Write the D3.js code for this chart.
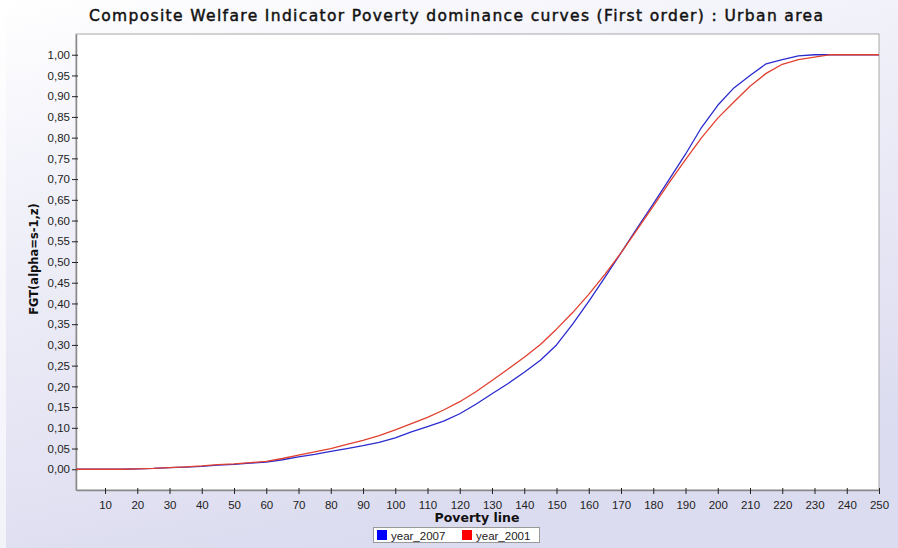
<!DOCTYPE html>
<html>
<head>
<meta charset="utf-8">
<script src="https://cdn.jsdelivr.net/npm/d3@7"></script>
<style>
  html, body { margin: 0; padding: 0; background: #ffffff; }
  svg { display: block; }
</style>
</head>
<body>
<svg id="chart" width="898" height="548"></svg>
<script>
// ---- Data ----
const povertyLine = [0,5,10,15,20,25,30,35,40,45,50,55,60,65,70,75,80,85,90,95,100,
  105,110,115,120,125,130,135,140,145,150,155,160,165,170,175,180,185,190,195,200,
  205,210,215,220,225,230,235,240,245,250];
const year2007 = [0,0,0,0,0.001,0.002,0.004,0.005,0.007,0.010,0.012,0.015,0.017,0.023,0.030,0.036,0.043,0.050,0.057,0.065,0.076,
  0.090,0.103,0.116,0.134,0.157,0.182,0.207,0.234,0.263,0.300,0.350,0.405,0.463,0.522,0.582,0.640,0.700,0.760,0.825,0.878,
  0.920,0.950,0.978,0.988,0.997,1.0,1.0,1.0,1.0,1.0];
const year2001 = [0,0,0,0,0.001,0.002,0.004,0.006,0.008,0.011,0.013,0.016,0.019,0.026,0.034,0.042,0.050,0.060,0.070,0.081,0.095,
  0.110,0.125,0.143,0.163,0.187,0.214,0.242,0.270,0.301,0.338,0.378,0.422,0.470,0.522,0.578,0.635,0.692,0.747,0.800,0.847,
  0.886,0.924,0.955,0.977,0.988,0.994,1.0,1.0,1.0,1.0];
const seriesNames = ["year_2007", "year_2001"];
const seriesColors = ["#2b2bd0", "#e0402e"];
const legendColors = ["#0000ff", "#ff0000"];
const xTicks = [10,20,30,40,50,60,70,80,90,100,110,120,130,140,150,160,170,180,190,200,210,220,230,240,250];
const yTicks = [0,0.05,0.10,0.15,0.20,0.25,0.30,0.35,0.40,0.45,0.50,0.55,0.60,0.65,0.70,0.75,0.80,0.85,0.90,0.95,1.00];
const titleText = "Composite Welfare Indicator Poverty dominance curves (First order) : Urban area";
const xLabel = "Poverty line";
const yLabel = "FGT(alpha=s-1,z)";

// ---- Layout ----
const W = 898, H = 548;
const plot = { left: 76, right: 879, top: 34, bottom: 490 };
const svg = d3.select("#chart");

const defs = svg.append("defs");
const grad = defs.append("linearGradient").attr("id", "bg")
  .attr("x1", "0").attr("y1", "0").attr("x2", "0.35").attr("y2", "1");
grad.append("stop").attr("offset", "0%").attr("stop-color", "#ffffff");
grad.append("stop").attr("offset", "30%").attr("stop-color", "#f2f2fa");
grad.append("stop").attr("offset", "100%").attr("stop-color", "#dcdcf0");
defs.append("clipPath").attr("id", "clip").append("rect")
  .attr("x", plot.left).attr("y", plot.top)
  .attr("width", plot.right - plot.left).attr("height", plot.bottom - plot.top);

svg.append("rect").attr("width", W).attr("height", H).attr("fill", "url(#bg)");
svg.append("rect").attr("x", 0).attr("y", 0).attr("width", 6).attr("height", H).attr("fill", "#ffffff").attr("opacity", 0.6);

const x = d3.scaleLinear().domain([1, 250]).range([plot.left, plot.right]);
const y = d3.scaleLinear().domain([-0.05, 1.05]).range([plot.bottom, plot.top]);

// plot background and frame
svg.append("rect").attr("x", plot.left).attr("y", plot.top)
  .attr("width", plot.right - plot.left).attr("height", plot.bottom - plot.top)
  .attr("fill", "#ffffff").attr("stroke", "#a8a8a8").attr("stroke-width", 1);

// axes
const fmt = v => d3.format(".2f")(v).replace(".", ",");
const yAxis = d3.axisLeft(y).tickValues(yTicks).tickFormat(fmt).tickSizeInner(4).tickSizeOuter(0).tickPadding(2);
const xAxis = d3.axisBottom(x).tickValues(xTicks).tickFormat(d3.format("d")).tickSizeInner(4).tickSizeOuter(0).tickPadding(7);

const gy = svg.append("g").attr("transform", `translate(${plot.left},0)`).call(yAxis);
const gx = svg.append("g").attr("transform", `translate(0,${plot.bottom})`).call(xAxis);
[gx, gy].forEach(g => {
  g.select(".domain").attr("stroke", "#8a8a8a").attr("stroke-width", 1.5);
  g.selectAll(".tick line").attr("stroke", "#222").attr("stroke-width", 1);
  g.selectAll(".tick text").attr("fill", "#222").style("font-family", "'Liberation Sans', Arial, sans-serif").style("font-size", "11.5px");
});
gx.selectAll(".tick line").attr("y1", -2);
gy.selectAll(".tick line").attr("x1", 2);

// lines
const line = d3.line().x((d, i) => x(povertyLine[i])).y(d => y(d));
const g = svg.append("g").attr("clip-path", "url(#clip)");
[year2007, year2001].forEach((s, k) => {
  g.append("path").datum(s).attr("d", line).attr("fill", "none")
    .attr("stroke", seriesColors[k]).attr("stroke-width", 1.3).attr("stroke-linejoin", "round");
});

// title
svg.append("text").attr("x", 456).attr("y", 21).attr("text-anchor", "middle")
  .style("font-family", "'DejaVu Sans', Verdana, sans-serif").style("font-size", "15.5px").style("font-weight", "normal")
  .attr("stroke", "#111").attr("stroke-width", 0.45)
  .attr("fill", "#111").attr("textLength", 734).attr("lengthAdjust", "spacing").text(titleText);

// axis labels
svg.append("text").attr("x", 477).attr("y", 522).attr("text-anchor", "middle")
  .style("font-family", "'DejaVu Sans', Verdana, sans-serif").style("font-size", "12.5px").style("font-weight", "bold")
  .attr("fill", "#111").text(xLabel);
svg.append("text").attr("transform", "translate(38,259) rotate(-90)").attr("text-anchor", "middle")
  .style("font-family", "'DejaVu Sans', Verdana, sans-serif").style("font-size", "11.5px").style("font-weight", "bold")
  .attr("fill", "#111").text(yLabel);

// legend
const leg = svg.append("g");
leg.append("rect").attr("x", 373.5).attr("y", 527.5).attr("width", 166).attr("height", 15)
  .attr("fill", "#ffffff").attr("stroke", "#999");
const legX = [377, 462];
seriesNames.forEach((n, k) => {
  leg.append("rect").attr("x", legX[k]).attr("y", 530).attr("width", 10).attr("height", 10).attr("fill", legendColors[k]);
  leg.append("text").attr("x", legX[k] + 14).attr("y", 539.5)
    .style("font-family", "'Liberation Sans', Arial, sans-serif").style("font-size", "11.5px")
    .attr("fill", "#222").text(n);
});
</script>
</body>
</html>
